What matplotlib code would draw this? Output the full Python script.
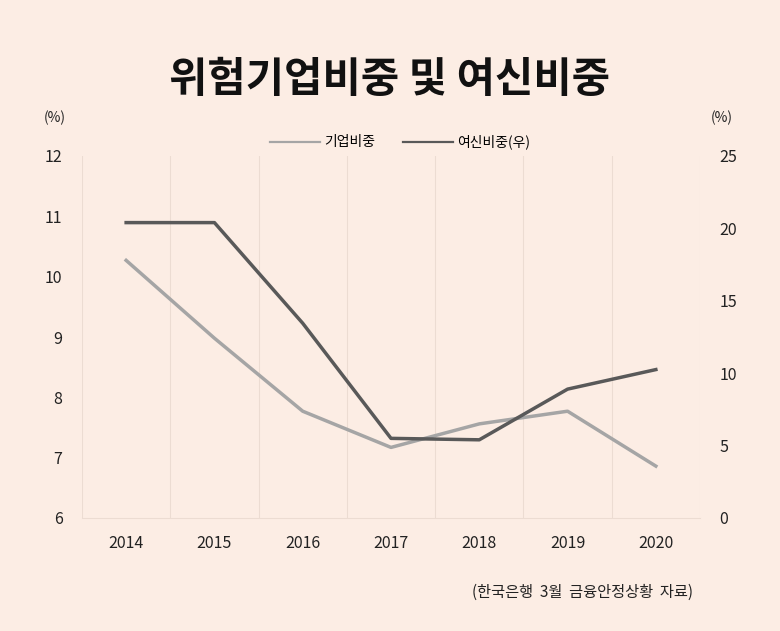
import numpy as np
import matplotlib
matplotlib.use("Agg")
import matplotlib.pyplot as plt

plt.rcParams['font.family'] = ['Noto Sans CJK KR', 'DejaVu Sans']

years = ['2014', '2015', '2016', '2017', '2018', '2019', '2020']
# 기업비중 (left axis, %)
company = [10.27, 8.98, 7.77, 7.17, 7.56, 7.77, 6.86]
# 여신비중 (right axis, %)
loans = [20.4, 20.4, 13.45, 5.5, 5.4, 8.9, 10.25]

bg = '#fcede4'
grid_c = '#ecdcd2'
light = '#a5a5a5'
dark = '#595959'

fig = plt.figure(figsize=(7.8, 6.31), dpi=100, facecolor=bg)
ax = fig.add_axes([82/780, 1 - 518/631, (700-82)/780, (518-156)/631])
ax.set_facecolor(bg)
ax2 = ax.twinx()

x = np.arange(len(years))
l1, = ax.plot(x, company, color=light, lw=2.5, label='기업비중')
l2, = ax2.plot(x, loans, color=dark, lw=2.5, label='여신비중(우)')

ax.set_xlim(-0.5, len(years) - 0.5)
ax.set_ylim(6, 12)
ax2.set_ylim(0, 25)
ax.set_yticks(range(6, 13))
ax2.set_yticks(range(0, 26, 5))
ax.set_xticks(x)
ax.set_xticklabels(years)

# vertical grid between categories
for b in np.arange(-0.5, len(years) + 0.5, 1):
    ax.axvline(b, color=grid_c, lw=0.8, zorder=0)

for a in (ax, ax2):
    for s in a.spines.values():
        s.set_visible(False)
    a.tick_params(length=0, labelsize=11.5, colors='#222222')
ax.spines['bottom'].set_visible(True)
ax.spines['bottom'].set_color(grid_c)
ax.tick_params(axis='y', pad=14)
ax.tick_params(axis='x', pad=12)
ax2.tick_params(axis='y', pad=14)

fig.text(0.5, 1 - 80/631, '위험기업비중 및 여신비중', ha='center', va='center',
         fontsize=30, fontweight='bold', color='#111111')
fig.text(55/780, 1 - 118/631, '(%)', ha='center', va='center', fontsize=10, color='#222222')
fig.text(722/780, 1 - 118/631, '(%)', ha='center', va='center', fontsize=10, color='#222222')

leg = fig.legend(handles=[l1, l2], loc='center', bbox_to_anchor=(400/780, 1 - 142/631),
                 ncol=2, frameon=False, fontsize=10, handlelength=3.6, columnspacing=2.0,
                 handletextpad=0.3)
for h in leg.get_lines():
    h.set_linewidth(1.6)

fig.text(693/780, 1 - 592/631, '(한국은행  3월  금융안정상황  자료)', ha='right', va='center',
         fontsize=11, color='#222222')

fig.savefig('out.png', dpi=100, facecolor=bg)
